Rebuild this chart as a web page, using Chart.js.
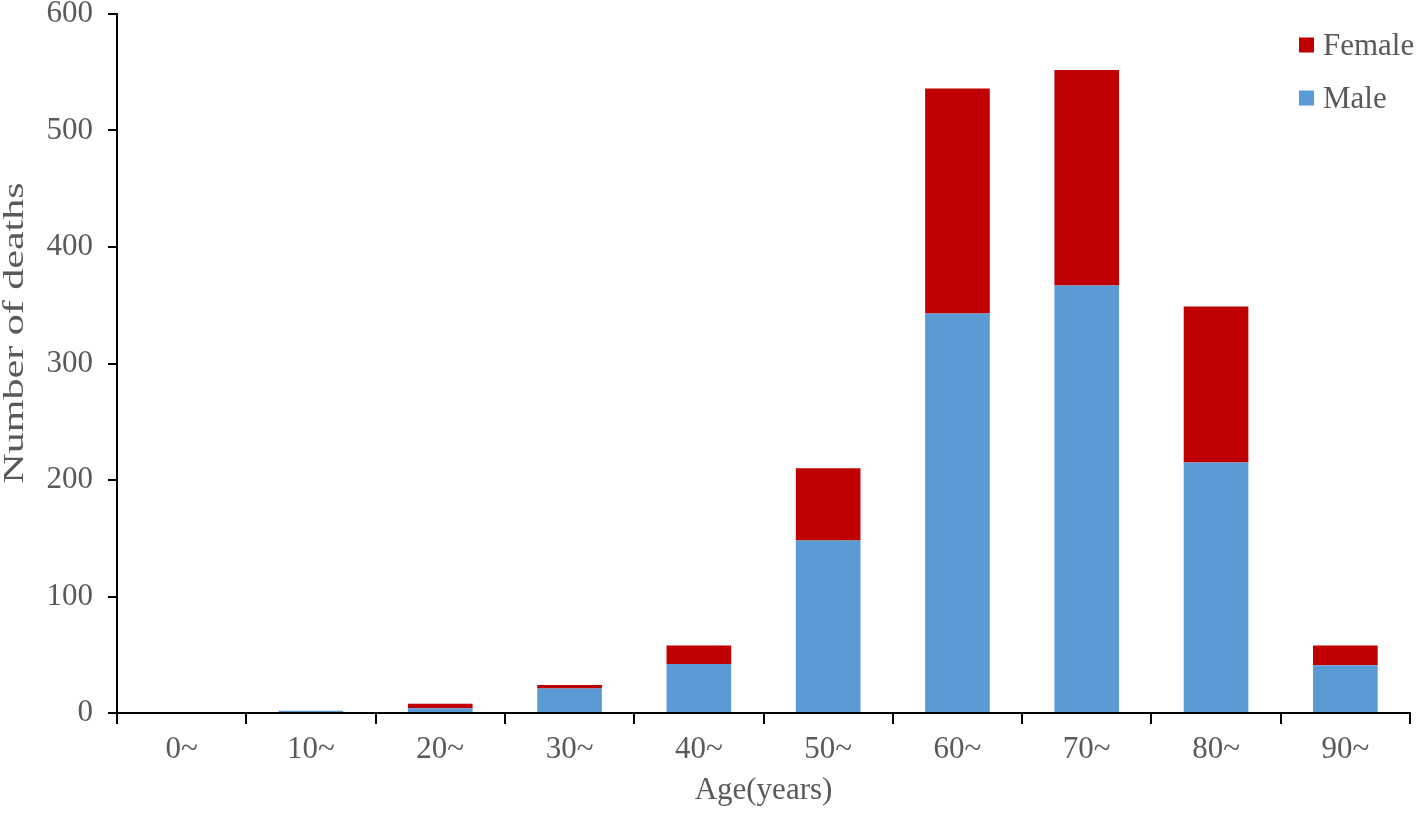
<!DOCTYPE html>
<html>
<head>
<meta charset="utf-8">
<script src="https://cdn.jsdelivr.net/npm/chart.js@4/dist/chart.umd.min.js"></script>
<style>
  html, body { margin:0; padding:0; background:#fff; }
  #wrap { width:1418px; height:813px; position:relative; }
</style>
</head>
<body>
<div id="wrap"><canvas id="c"></canvas></div>
<script>
// data
const ageGroups  = ['0~','10~','20~','30~','40~','50~','60~','70~','80~','90~'];
const maleDeaths   = [0, 2, 4, 21, 42, 148, 343, 367, 215, 41];
const femaleDeaths = [0, 0, 4, 3, 16, 62, 193, 185, 134, 17];
const yTicks = [0, 100, 200, 300, 400, 500, 600];
const yTitle = 'Number of deaths';
const xTitle = 'Age(years)';

const FONT = '"Liberation Serif", "Times New Roman", serif';
const GREY = '#595959';

// legend inside the plot, top right, female first
const insideLegend = {
  id: 'insideLegend',
  afterDraw(chart) {
    const ctx = chart.ctx;
    const ds = chart.data.datasets.slice().reverse();
    const x = 1299, y0 = 45, gap = 53, box = 15;
    ctx.save();
    ctx.font = '31px ' + FONT;
    ctx.textBaseline = 'middle';
    ds.forEach((d, i) => {
      const y = y0 + i * gap;
      ctx.fillStyle = d.backgroundColor;
      ctx.fillRect(x, y - box/2, box, box);
      ctx.fillStyle = GREY;
      ctx.fillText(d.label, x + box + 9, y + 2);
    });
    ctx.restore();
  }
};

// y title is drawn stretched along its length, like the original
const yAxisTitle = {
  id: 'yAxisTitle',
  afterDraw(chart) {
    const ctx = chart.ctx;
    const a = chart.chartArea;
    ctx.save();
    ctx.font = '29px ' + FONT;
    ctx.fillStyle = GREY;
    ctx.textAlign = 'center';
    ctx.textBaseline = 'middle';
    ctx.translate(15, 333);
    ctx.rotate(-Math.PI / 2);
    ctx.scale(1.45, 1);
    ctx.fillText(yTitle, 0, 0);
    ctx.restore();
  }
};

new Chart(document.getElementById('c'), {
  type: 'bar',
  data: {
    labels: ageGroups,
    datasets: [
      { label:'Male',   data: maleDeaths,   backgroundColor:'#5b9bd5' },
      { label:'Female', data: femaleDeaths, backgroundColor:'#c00000' }
    ]
  },
  options: {
    responsive:true, maintainAspectRatio:false, animation:false,
    layout:{ padding:{ top:14, right:8, left:0, bottom:0 } },
    datasets:{ bar:{ barPercentage:0.5, categoryPercentage:1.0, borderWidth:0 } },
    plugins:{ legend:{ display:false }, tooltip:{ enabled:false } },
    scales:{
      x:{
        stacked:true,
        offset:true,
        border:{ color:'#000', width:2 },
        grid:{ display:true, offset:true, drawOnChartArea:false, drawTicks:true, tickLength:11, color:'#000', lineWidth:2 },
        ticks:{ color:GREY, font:{ family:FONT, size:31 }, padding:7, maxRotation:0 },
        title:{ display:true, text:xTitle, color:GREY, font:{ family:FONT, size:31 }, padding:{ top:4 } },
        afterFit: s => { s.height = 100; s.paddingLeft = 0; s.paddingRight = 0; }
      },
      y:{
        stacked:true,
        min:0, max:600,
        afterBuildTicks: s => { s.ticks = yTicks.map(v => ({ value:v })); },
        border:{ color:'#000', width:2 },
        grid:{ display:true, drawOnChartArea:false, drawTicks:true, tickLength:9, color:'#000', lineWidth:2 },
        ticks:{ color:GREY, font:{ family:FONT, size:31 }, padding:15 },
        afterFit: s => { s.width = 117; s.paddingTop = 0; s.paddingBottom = 0; }
      }
    }
  },
  plugins:[insideLegend, yAxisTitle]
});
</script>
</body>
</html>
